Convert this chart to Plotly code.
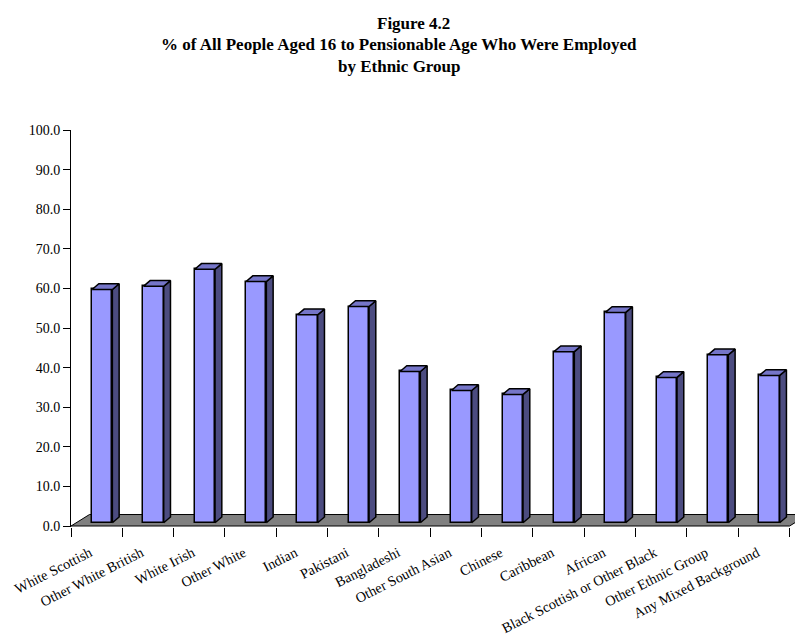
import plotly.graph_objects as go

# Employment rate (%) of people aged 16 to pensionable age, by ethnic group
categories = [
    "White Scottish", "Other White British", "White Irish", "Other White",
    "Indian", "Pakistani", "Bangladeshi", "Other South Asian", "Chinese",
    "Caribbean", "African", "Black Scottish or Other Black",
    "Other Ethnic Group", "Any Mixed Background",
]
employed_pct = [58.9, 59.7, 64.0, 60.9, 52.5, 54.6, 38.2, 33.4, 32.4,
                43.2, 53.1, 36.7, 42.4, 37.2]
y_ticks = [0, 10, 20, 30, 40, 50, 60, 70, 80, 90, 100]

# --- pseudo-3D geometry (in axis units) ---
FONT = "Times New Roman, Liberation Serif, serif"
FRONT_COLOR = "#9999FF"
TOP_COLOR = "#7575C8"
SIDE_COLOR = "#4C4C80"
FLOOR_COLOR = "#808080"

bar_left = -0.09        # front face left edge relative to category centre
bar_width = 0.396       # front face width (category units)
bar_base = 0.83         # front face sits slightly behind the front plane
depth_dx = 0.132        # bar depth projected along x
depth_dy = 1.44         # bar depth projected along y
floor_dx = 0.36         # floor depth projected along x
floor_dy = 2.9          # floor depth projected along y
label_shift = -0.13     # category labels hang just left of the centre

n = len(categories)
xs = list(range(n))

# side and top faces as filled polygons, separated by None
side_x, side_y, top_x, top_y = [], [], [], []
for i, v in zip(xs, employed_pct):
    x0 = i + bar_left
    x1 = x0 + bar_width
    y0 = bar_base
    y1 = bar_base + v
    side_x += [x1, x1 + depth_dx, x1 + depth_dx, x1, x1, None]
    side_y += [y0, y0 + depth_dy, y1 + depth_dy, y1, y0, None]
    top_x += [x0, x1, x1 + depth_dx, x0 + depth_dx, x0, None]
    top_y += [y1, y1, y1 + depth_dy, y1 + depth_dy, y1, None]

fig = go.Figure()

fig.add_trace(go.Bar(
    x=xs, y=employed_pct, base=bar_base,
    width=bar_width, offset=bar_left,
    marker=dict(color=FRONT_COLOR, line=dict(color="black", width=1.5)),
    hoverinfo="skip", showlegend=False,
))
fig.add_trace(go.Scatter(
    x=side_x, y=side_y, mode="lines", fill="toself",
    fillcolor=SIDE_COLOR, line=dict(color="black", width=1.5),
    hoverinfo="skip", showlegend=False,
))
fig.add_trace(go.Scatter(
    x=top_x, y=top_y, mode="lines", fill="toself",
    fillcolor=TOP_COLOR, line=dict(color="black", width=1.5),
    hoverinfo="skip", showlegend=False,
))

# grey floor of the 3-D plot area
x_lo, x_hi = -0.5, n - 0.5
fig.add_shape(
    type="path", xref="x", yref="y", layer="below",
    path=(f"M {x_lo},0 L {x_hi},0 L {x_hi + floor_dx},{floor_dy} "
          f"L {x_lo + floor_dx},{floor_dy} Z"),
    fillcolor=FLOOR_COLOR, line=dict(color="black", width=1),
)

# layout in pixels
W, H = 795, 644
ML, MR, MT, MB = 71, 0, 130, 117
plot_w = W - ML - MR
plot_h = H - MT - MB
px_per_cat = 51.33
y_min = -0.25

def paper_x(px):
    return (px - ML) / plot_w

def paper_y(py):
    return (H - MB - py) / plot_h

title_lines = [
    ("<b>Figure 4.2</b>", 413.5, 23),
    ("<b>% of All People Aged 16 to Pensionable Age Who Were Employed</b>", 399, 45),
    ("<b>by Ethnic Group</b>", 399, 67),
]
for text, tx, ty in title_lines:
    fig.add_annotation(
        text=text, x=paper_x(tx), y=paper_y(ty), xref="paper", yref="paper",
        xanchor="center", yanchor="middle", showarrow=False,
        font=dict(family=FONT, size=17, color="black"),
    )

fig.update_layout(
    width=W, height=H,
    margin=dict(l=ML, r=MR, t=MT, b=MB, pad=0),
    paper_bgcolor="white", plot_bgcolor="white",
    font=dict(family=FONT, size=14, color="black"),
    bargap=0,
    xaxis=dict(
        range=[x_lo, x_lo + plot_w / px_per_cat],
        tickmode="array", tickvals=[i + label_shift for i in xs],
        ticktext=categories,
        tickangle=-27, ticks="", showgrid=False, zeroline=False,
        showline=False, ticklabelstandoff=14,
        tickfont=dict(family=FONT, size=14.3, color="black"),
        minor=dict(tickmode="array", tickvals=[i - 0.5 for i in range(n + 1)],
                   ticks="outside", ticklen=9, tickcolor="black", tickwidth=1,
                   showgrid=False),
    ),
    yaxis=dict(
        range=[y_min, 100], tickmode="array", tickvals=y_ticks,
        tickformat=".1f", ticks="outside", ticklen=7, tickcolor="black",
        showline=True, linecolor="black", linewidth=1,
        showgrid=False, zeroline=False,
        tickfont=dict(family=FONT, size=14, color="black"),
    ),
)

fig.write_html("out.html")
